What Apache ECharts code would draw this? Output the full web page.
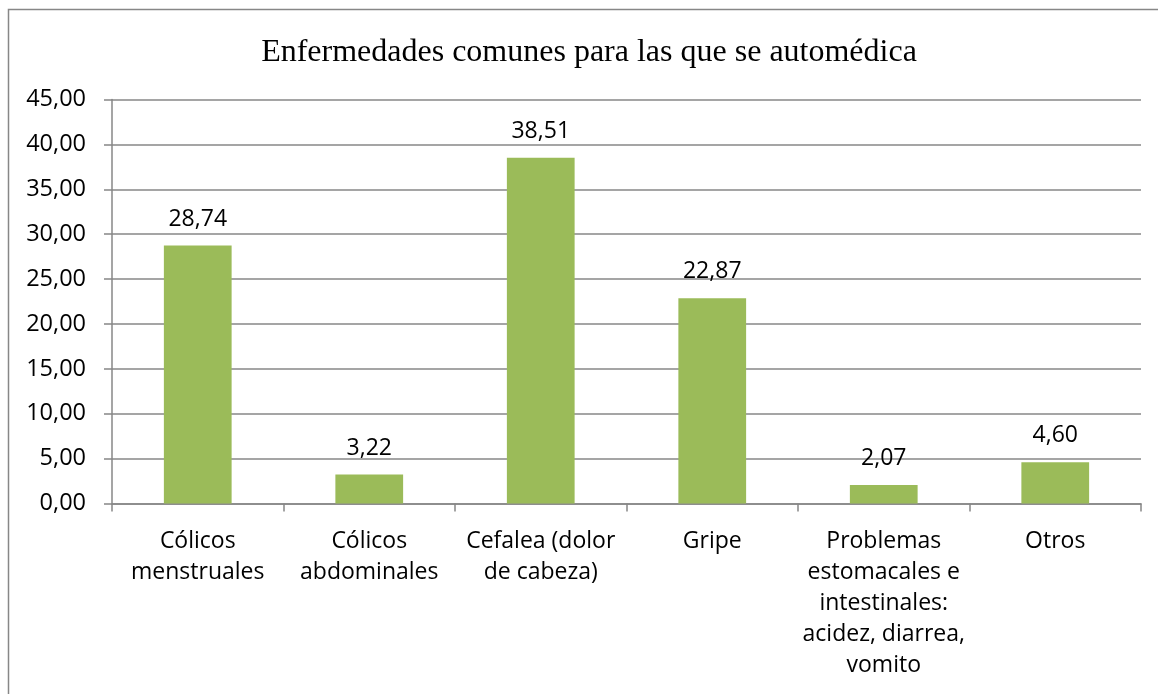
<!DOCTYPE html>
<html>
<head>
<meta charset="utf-8">
<script src="https://cdn.jsdelivr.net/npm/echarts@6/dist/echarts.min.js"></script>
<style>
html,body{margin:0;padding:0;background:#fff;}
#chart{width:1158px;height:694px;}
</style>
</head>
<body>
<div id="chart"></div>
<script>
var titleText = 'Enfermedades comunes para las que se automédica';
var categories = ['Cólicos\nmenstruales', 'Cólicos\nabdominales', 'Cefalea (dolor\nde cabeza)', 'Gripe', 'Problemas\nestomacales e\nintestinales:\nacidez, diarrea,\nvomito', 'Otros'];
var values = [28.74, 3.22, 38.51, 22.87, 2.07, 4.60];
var yMin = 0, yMax = 45, yStep = 5;

function fmt(v){ return Number(v).toFixed(2).replace('.', ','); }

var chart = echarts.init(document.getElementById('chart'), null, {renderer:'canvas'});
var gray = '#878787';
var labelFont = '"Open Sans", sans-serif';
chart.setOption({
  animation: false,
  backgroundColor: '#ffffff',
  graphic: [{
    type: 'rect', silent: true, z: -1,
    shape: {x: 8.5, y: 9.5, width: 1300, height: 900},
    style: {fill: 'none', stroke: gray, lineWidth: 1.5}
  }],
  title: {
    text: titleText,
    left: 584, top: 32, textAlign: 'center',
    textStyle: {fontFamily: '"Liberation Serif", serif', fontSize: 32, fontWeight: 'normal', color: '#000'}
  },
  grid: {left: 112, right: 17, top: 99.5, bottom: 190.5, containLabel: false},
  xAxis: {
    type: 'category',
    data: categories,
    boundaryGap: true,
    axisLine: {lineStyle: {color: gray, width: 1.5}},
    axisTick: {show: true, length: 8, alignWithLabel: false, lineStyle: {color: gray, width: 1.5}},
    axisLabel: {interval: 0, margin: 22, color: '#000', fontFamily: labelFont, fontSize: 23, lineHeight: 31, align: 'center'}
  },
  yAxis: {
    type: 'value',
    min: yMin, max: yMax, interval: yStep,
    axisLine: {show: true, lineStyle: {color: gray, width: 1.5}},
    axisTick: {show: true, length: 8, lineStyle: {color: gray, width: 1.5}},
    splitLine: {show: true, lineStyle: {color: gray, width: 1.5}},
    axisLabel: {margin: 26, color: '#000', fontFamily: labelFont, fontSize: 23.5, formatter: function(v){ return fmt(v); }}
  },
  series: [{
    type: 'bar',
    data: values,
    barWidth: '39.5%',
    itemStyle: {color: '#9BBB59'},
    label: {show: true, position: 'top', distance: 15, color: '#000', fontFamily: labelFont, fontSize: 23, formatter: function(p){ return fmt(p.value); }}
  }]
});
</script>
</body>
</html>
